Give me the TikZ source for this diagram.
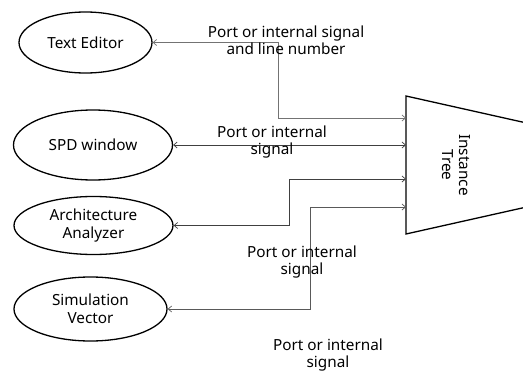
\documentclass[tikz,border=0pt]{standalone}
\usepackage{fontspec}
\setmainfont{Noto Sans}
\usetikzlibrary{arrows.meta,shapes.geometric}
\tikzset{
  blob/.style={draw=black, line width=1.3pt, ellipse, inner sep=0pt, align=center, font=\fontsize{15.3}{17.5}\selectfont},
  conn/.style={draw=black!75, line width=0.7pt, {Straight Barb[length=3.5pt,width=6pt]}-{Straight Barb[length=3.5pt,width=6pt]}},
  lbl/.style={align=center, font=\fontsize{15.3}{17}\selectfont, inner sep=0pt}
}
\begin{document}
\begin{tikzpicture}[x=1pt,y=-1pt]
\useasboundingbox (0,0) rectangle (523,372);
% ellipses
\node[blob, minimum width=133pt, minimum height=61pt] (te) at (85.5,42.5) {Text Editor};
\node[blob, minimum width=159pt, minimum height=70pt] (spd) at (93,145) {SPD window};
\node[blob, minimum width=159pt, minimum height=58pt] (arch) at (93.5,225.5) {Architecture\\Analyzer};
\node[blob, minimum width=153pt, minimum height=64pt] (sim) at (90.5,309) {Simulation\\Vector};
% instance tree trapezoid
\begin{scope}
\clip (0,0) rectangle (523,372);
\draw[line width=1.3pt, line join=miter] (540,126) -- (406,96) -- (406,234) -- (540,204);
\end{scope}
\node[lbl, rotate=-90] (tree) at (456,165) {Instance\\Tree};
\coordinate (t1) at (406,118);
\coordinate (t2) at (406,145);
\coordinate (t3) at (406,179);
\coordinate (t4) at (406,207);
\coordinate (k1) at (278,42.5);
\coordinate (k3) at (289,225.5);
\coordinate (k4) at (310,309);
% connectors
\draw[conn, draw=black!55] (te.east) -- (k1) |- (t1);
\draw[conn] (spd.east) -- (t2);
\draw[conn] (arch.east) -- (k3) |- (t3);
\draw[conn, draw=black!65] (sim.east) -- (k4) |- (t4);
% labels
\node[lbl] (l1) at (286,40) {Port or internal signal\\and line number};
\node[lbl] (l2) at (272,142) {Port or internal\\signal};
\node[lbl] (l3) at (302,262) {Port or internal\\signal};
\node[lbl] (l4) at (328,355) {Port or internal\\signal};
\end{tikzpicture}
\end{document}
